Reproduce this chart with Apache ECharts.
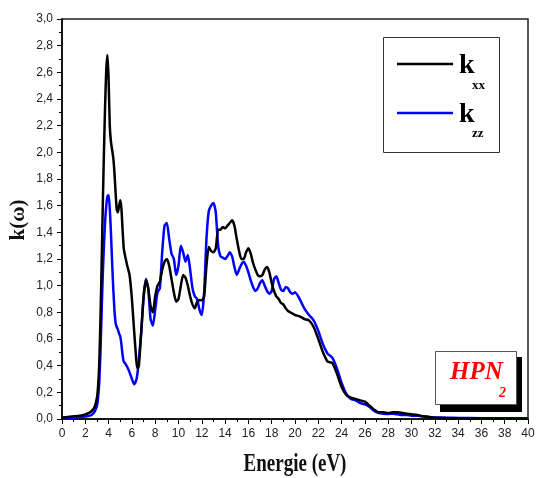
<!DOCTYPE html>
<html>
<head>
<meta charset="utf-8">
<script src="https://cdn.jsdelivr.net/npm/echarts@6/dist/echarts.min.js"></script>
<style>
  html, body { margin: 0; padding: 0; background: #fff; }
  #chart { width: 536px; height: 478px; }
</style>
</head>
<body>
<div id="chart"></div>
<script>
// Photon energy grid (eV)
const energy = [
  0, 0.5, 1.0, 1.5, 2.0, 2.4, 2.6, 2.8, 3.0, 3.1, 3.2, 3.3, 3.4, 3.5, 3.6, 3.7, 3.8, 3.9,
  4.0, 4.1, 4.2, 4.3, 4.4, 4.5, 4.6, 4.7, 4.8, 4.9, 5.0, 5.1, 5.2, 5.3, 5.4, 5.6, 5.8,
  6.0, 6.2, 6.4, 6.5, 6.6, 6.8, 7.0, 7.2, 7.4, 7.6, 7.8, 8.0, 8.2, 8.4, 8.6, 8.8,
  9.0, 9.2, 9.4, 9.6, 9.8, 10.0, 10.2, 10.4, 10.6, 10.8, 11.0, 11.2, 11.4, 11.6, 11.8,
  12.0, 12.2, 12.4, 12.6, 12.8, 13.0, 13.2, 13.4, 13.6, 13.8, 14.0, 14.2, 14.4, 14.6, 14.8,
  15.0, 15.2, 15.4, 15.6, 15.8, 16.0, 16.2, 16.4, 16.6, 16.8, 17.0, 17.2, 17.4, 17.6, 17.8,
  18.0, 18.2, 18.4, 18.6, 18.8, 19.0, 19.2, 19.4, 19.6, 19.8, 20.0, 20.4, 20.8, 21.2, 21.6,
  22.0, 22.4, 22.8, 23.2, 23.6, 24.0, 24.4, 24.8, 25.2, 25.6, 26.0, 26.4, 26.8, 27.2, 27.6,
  28.0, 28.4, 28.8, 29.2, 29.6, 30.0, 30.5, 31.0, 31.5, 32, 33, 34, 36, 38, 40
];

// Extinction coefficient, xx component
const kxx = [
  0.012, 0.015, 0.020, 0.025, 0.035, 0.050, 0.065, 0.090, 0.16, 0.25, 0.42, 0.75, 1.15, 1.60, 2.00, 2.35, 2.62, 2.73,
  2.55, 2.20, 2.08, 2.02, 1.96, 1.85, 1.70, 1.57, 1.55, 1.60, 1.64, 1.58, 1.42, 1.28, 1.23, 1.15, 1.08,
  0.90, 0.65, 0.42, 0.38, 0.40, 0.65, 0.92, 1.04, 0.98, 0.85, 0.80, 0.92, 1.00, 1.03, 1.12, 1.18,
  1.20, 1.15, 1.05, 0.95, 0.88, 0.90, 1.00, 1.08, 1.06, 1.00, 0.92, 0.86, 0.83, 0.88, 0.89,
  0.89, 0.92, 1.15, 1.29, 1.26, 1.25, 1.28, 1.42, 1.42, 1.44, 1.43, 1.45, 1.47, 1.49, 1.45,
  1.35, 1.26, 1.20, 1.20, 1.25, 1.28, 1.24, 1.17, 1.12, 1.08, 1.07, 1.08, 1.12, 1.14, 1.10,
  1.02, 0.96, 0.92, 0.90, 0.87, 0.86, 0.83, 0.81, 0.80, 0.79, 0.78, 0.77, 0.75, 0.74, 0.69,
  0.60, 0.50, 0.43, 0.42, 0.34, 0.24, 0.18, 0.16, 0.15, 0.14, 0.13, 0.10, 0.07, 0.05, 0.05,
  0.045, 0.05, 0.05, 0.045, 0.04, 0.035, 0.03, 0.02, 0.015, 0.010, 0.007, 0.005, 0.004, 0.003, 0.003
];

// Extinction coefficient, zz component
const kzz = [
  0.005, 0.008, 0.010, 0.013, 0.018, 0.025, 0.035, 0.055, 0.10, 0.16, 0.28, 0.50, 0.80, 1.08, 1.30, 1.48, 1.60, 1.67,
  1.68, 1.58, 1.40, 1.18, 0.98, 0.82, 0.72, 0.69, 0.67, 0.64, 0.62, 0.56, 0.48, 0.43, 0.42, 0.39, 0.35,
  0.30, 0.26, 0.30, 0.36, 0.45, 0.65, 0.90, 1.05, 0.98, 0.75, 0.70, 0.82, 0.95, 0.98, 1.25, 1.45,
  1.47, 1.35, 1.24, 1.20, 1.08, 1.15, 1.30, 1.25, 1.18, 1.23, 1.12, 0.98, 0.92, 0.90, 0.82,
  0.78, 0.95, 1.35, 1.56, 1.60, 1.62, 1.55, 1.30, 1.22, 1.21, 1.20, 1.22, 1.25, 1.22, 1.14,
  1.08, 1.12, 1.16, 1.18, 1.15, 1.10, 1.04, 0.99, 0.96, 0.98, 1.02, 1.04, 1.00, 0.96, 0.94,
  0.96, 1.05, 1.07, 1.02, 0.97, 0.96, 0.99, 0.98, 0.95, 0.94, 0.95, 0.90, 0.83, 0.78, 0.74,
  0.66, 0.56, 0.49, 0.46, 0.38, 0.27, 0.19, 0.15, 0.14, 0.12, 0.11, 0.09, 0.06, 0.045, 0.04,
  0.038, 0.04, 0.035, 0.03, 0.03, 0.025, 0.025, 0.02, 0.015, 0.012, 0.010, 0.008, 0.006, 0.004, 0.003
];

const seriesNames = ['kxx', 'kzz'];
const seriesColors = ['#000000', '#0000ff'];

const pairs = (ys) => energy.map((e, i) => [e, ys[i]]);
const comma = (v, digits) => v.toFixed(digits).replace('.', ',');

const chart = echarts.init(document.getElementById('chart'), null, { renderer: 'canvas' });

const tickFont = { fontFamily: 'Liberation Sans, Arial, sans-serif', fontSize: 12, color: '#222' };
const serif = '"Liberation Serif", "Times New Roman", serif';

chart.setOption({
  animation: false,
  backgroundColor: '#fff',
  grid: {
    left: 62, right: 8, top: 19, bottom: 59, containLabel: false, outerBoundsMode: 'none',
    show: true, borderColor: '#222', borderWidth: 1.5, backgroundColor: 'transparent'
  },
  xAxis: {
    type: 'value', min: 0, max: 40, interval: 2,
    axisLine: { lineStyle: { color: '#000', width: 1.5 } },
    axisTick: { inside: false, length: 5, lineStyle: { color: '#000', width: 1 } },
    minorTick: { show: true, splitNumber: 2, length: 3, lineStyle: { color: '#000', width: 1 } },
    axisLabel: Object.assign({ margin: 9, formatter: (v) => String(v) }, tickFont),
    splitLine: { show: false }
  },
  yAxis: {
    type: 'value', min: 0, max: 3, interval: 0.2,
    axisLine: { show: true, lineStyle: { color: '#000', width: 1.5 } },
    axisTick: { show: true, inside: false, length: 5, lineStyle: { color: '#000', width: 1 } },
    minorTick: { show: true, splitNumber: 2, length: 3, lineStyle: { color: '#000', width: 1 } },
    axisLabel: Object.assign({ margin: 9, formatter: (v) => comma(v, 1) }, tickFont),
    splitLine: { show: false }
  },
  series: [
    { name: seriesNames[0], type: 'line', data: pairs(kxx), showSymbol: false, smooth: 0.2,
      lineStyle: { color: seriesColors[0], width: 2.5 }, itemStyle: { color: seriesColors[0] }, z: 3 },
    { name: seriesNames[1], type: 'line', data: pairs(kzz), showSymbol: false, smooth: 0.2,
      lineStyle: { color: seriesColors[1], width: 2.5 }, itemStyle: { color: seriesColors[1] }, z: 2 }
  ],
  graphic: [
    // axis titles
    { type: 'text', x: 295, y: 477, scaleY: 1.3, z: 10,
      style: { text: 'Energie (eV)', font: 'bold 19px ' + serif, fill: '#111', textAlign: 'center', textVerticalAlign: 'bottom' } },
    { type: 'text', x: 19, y: 220, rotation: Math.PI / 2, z: 10,
      style: { text: 'k(ω)', font: 'bold 21px ' + serif, fill: '#111', textAlign: 'center', textVerticalAlign: 'middle' } },
    // legend box
    { type: 'rect', shape: { x: 383.5, y: 37.5, width: 116, height: 115 }, style: { fill: '#fff', stroke: '#333', lineWidth: 1 }, z: 10 },
    { type: 'line', shape: { x1: 397, y1: 64, x2: 453, y2: 64 }, style: { stroke: seriesColors[0], lineWidth: 2.5 }, z: 11 },
    { type: 'text', left: 459, top: 52, z: 11, style: { text: 'k', font: 'bold 28px ' + serif, fill: '#000' } },
    { type: 'text', left: 472, top: 79, z: 11, style: { text: 'xx', font: 'bold 13px ' + serif, fill: '#000' } },
    { type: 'line', shape: { x1: 397, y1: 113, x2: 453, y2: 113 }, style: { stroke: seriesColors[1], lineWidth: 2.5 }, z: 11 },
    { type: 'text', left: 459, top: 101, z: 11, style: { text: 'k', font: 'bold 28px ' + serif, fill: '#000' } },
    { type: 'text', left: 472, top: 127, z: 11, style: { text: 'zz', font: 'bold 13px ' + serif, fill: '#000' } },
    // compound label with drop shadow
    { type: 'rect', shape: { x: 440, y: 357, width: 82, height: 55 }, style: { fill: '#000' }, z: 10 },
    { type: 'rect', shape: { x: 435.5, y: 351.5, width: 81, height: 53 }, style: { fill: '#fff', stroke: '#555', lineWidth: 1 }, z: 11 },
    { type: 'text', left: 450, top: 360, z: 12, style: { text: 'HPN', font: 'italic bold 25px ' + serif, fill: '#ff0000' } },
    { type: 'text', left: 499, top: 386, z: 12, style: { text: '2', font: 'italic bold 14px ' + serif, fill: '#ff0000' } }
  ]
});
</script>
</body>
</html>
